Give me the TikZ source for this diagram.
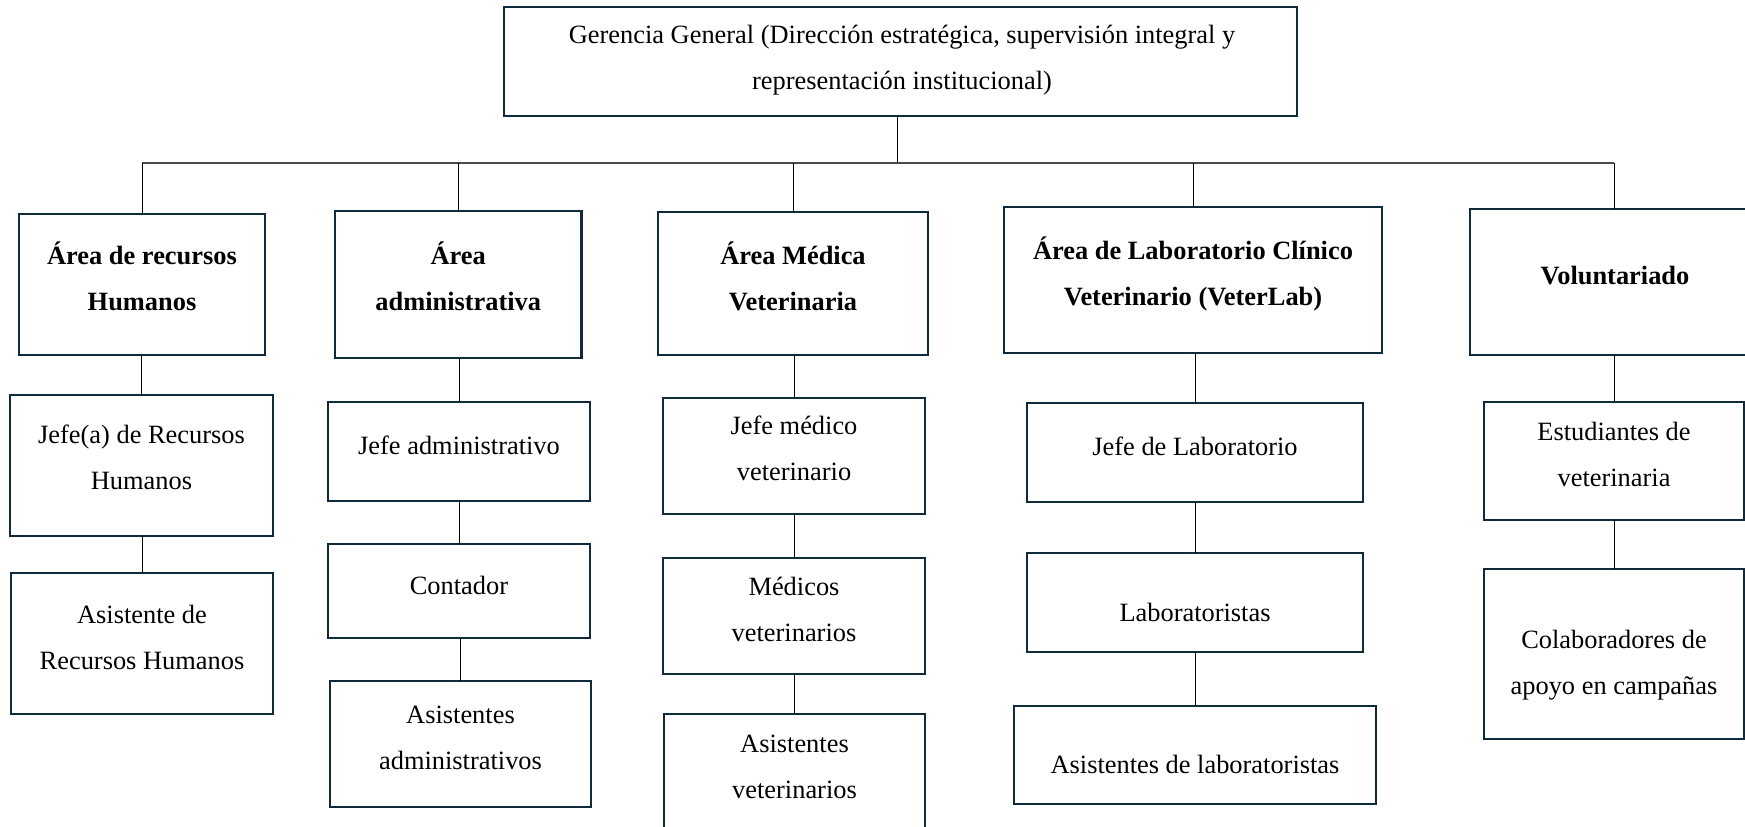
\documentclass[tikz,border=0pt]{standalone}
\usepackage{fontspec}
\setmainfont{Liberation Serif}
\definecolor{boxline}{HTML}{0F2B3B}
\definecolor{busline}{HTML}{4A4A4A}
\begin{document}
\begin{tikzpicture}[x=1pt,y=-1pt,
  box/.style={draw=boxline, line width=2.5pt, fill=white, inner sep=0pt, outer sep=0pt, rectangle},
  lbl/.style={anchor=base, inner sep=0pt, font=\fontsize{26.4}{46}\selectfont},
  conn/.style={draw=black, line width=1pt},
  busst/.style={draw=busline, line width=1.6pt}]
\useasboundingbox (0,0) rectangle (1745,827);
\clip (0,0) rectangle (1745,827);
\fill[white] (0,0) rectangle (1745,827);

% connectors first (under boxes)
\coordinate (bus) at (897,163);

% boxes
\node[box, minimum width=793pt, minimum height=109pt] (top) at (900.5,61.5) {};
\node[box, minimum width=246pt, minimum height=141pt] (h1) at (142,284.5) {};
\node[box, minimum width=246.5pt, minimum height=147pt] (h2) at (458.25,284.5) {};
\node[box, minimum width=270pt, minimum height=143pt] (h3) at (793,283.5) {};
\node[box, minimum width=378pt, minimum height=146pt] (h4) at (1193,280) {};
\node[box, minimum width=290pt, minimum height=146pt] (h5) at (1615,282) {};

\node[box, minimum width=263pt, minimum height=141pt] (a1) at (141.5,465.5) {};
\node[box, minimum width=262pt, minimum height=141pt] (a2) at (142,643.5) {};

\node[box, minimum width=262pt, minimum height=99pt] (b1) at (459,451.5) {};
\node[box, minimum width=262pt, minimum height=94pt] (b2) at (459,591) {};
\node[box, minimum width=261pt, minimum height=126pt] (b3) at (460.5,744) {};

\node[box, minimum width=262pt, minimum height=116pt] (c1) at (794,456) {};
\node[box, minimum width=262pt, minimum height=116pt] (c2) at (794,616) {};
\node[box, minimum width=261pt, minimum height=136pt] (c3) at (794.5,782) {};

\node[box, minimum width=336pt, minimum height=99pt] (d1) at (1195,452.5) {};
\node[box, minimum width=336pt, minimum height=99pt] (d2) at (1195,602.5) {};
\node[box, minimum width=362pt, minimum height=98pt] (d3) at (1195,755) {};

\node[box, minimum width=260pt, minimum height=118pt] (e1) at (1614,461) {};
\node[box, minimum width=260pt, minimum height=170pt] (e2) at (1614,654) {};

% tree connectors
\draw[conn] (top.south -| bus) -- (bus);
\draw[busst] (h1.north |- bus) -- (e1.north |- bus);
\draw[conn] (h1.north) -- (h1.north |- bus);
\draw[conn] (h2.north) -- (h2.north |- bus);
\draw[conn] (h3.north) -- (h3.north |- bus);
\draw[conn] (h4.north) -- (h4.north |- bus);
\draw[conn] (e1.north |- h5.north) -- (e1.north |- bus);

\draw[conn] (a1.north) -- (a1.north |- h1.south);
\draw[conn] (a2.north) -- (a2.north |- a1.south);
\draw[conn] (b1.north) -- (b1.north |- h2.south);
\draw[conn] (b2.north) -- (b2.north |- b1.south);
\draw[conn] (b3.north) -- (b3.north |- b2.south);
\draw[conn] (c1.north) -- (c1.north |- h3.south);
\draw[conn] (c2.north) -- (c2.north |- c1.south);
\draw[conn] (c3.north) -- (c3.north |- c2.south);
\draw[conn] (d1.north) -- (d1.north |- h4.south);
\draw[conn] (d2.north) -- (d2.north |- d1.south);
\draw[conn] (d3.north) -- (d3.north |- d2.south);
\draw[conn] (e1.north) -- (e1.north |- h5.south);
\draw[conn] (e2.north) -- (e2.north |- e1.south);

% texts
\node[lbl] (ttop) at (902,43) {\begin{tabular}[t]{@{}c@{}}Gerencia General (Dirección estratégica, supervisión integral y\\representación institucional)\end{tabular}};
\node[lbl] (th1) at (142,264) {\bfseries\begin{tabular}[t]{@{}c@{}}Área de recursos\\Humanos\end{tabular}};
\node[lbl] (th2) at (458.25,264) {\bfseries\begin{tabular}[t]{@{}c@{}}Área\\administrativa\end{tabular}};
\node[lbl] (th3) at (793,264) {\bfseries\begin{tabular}[t]{@{}c@{}}Área Médica\\Veterinaria\end{tabular}};
\node[lbl] (th4) at (1193,259) {\bfseries\begin{tabular}[t]{@{}c@{}}Área de Laboratorio Clínico\\Veterinario (VeterLab)\end{tabular}};
\node[lbl] (th5) at (1615,284) {\bfseries Voluntariado};

\node[lbl] (ta1) at (141.5,443) {\begin{tabular}[t]{@{}c@{}}Jefe(a) de Recursos\\Humanos\end{tabular}};
\node[lbl] (ta2) at (142,623) {\begin{tabular}[t]{@{}c@{}}Asistente de\\Recursos Humanos\end{tabular}};
\node[lbl] (tb1) at (459,454) {Jefe administrativo};
\node[lbl] (tb2) at (459,594) {Contador};
\node[lbl] (tb3) at (460.5,723) {\begin{tabular}[t]{@{}c@{}}Asistentes\\administrativos\end{tabular}};
\node[lbl] (tc1) at (794,434) {\begin{tabular}[t]{@{}c@{}}Jefe médico\\veterinario\end{tabular}};
\node[lbl] (tc2) at (794,595) {\begin{tabular}[t]{@{}c@{}}Médicos\\veterinarios\end{tabular}};
\node[lbl] (tc3) at (794.5,752) {\begin{tabular}[t]{@{}c@{}}Asistentes\\veterinarios\end{tabular}};
\node[lbl] (td1) at (1195,455) {Jefe de Laboratorio};
\node[lbl] (td2) at (1195,621) {Laboratoristas};
\node[lbl] (td3) at (1195,773) {Asistentes de laboratoristas};
\node[lbl] (te1) at (1614,440) {\begin{tabular}[t]{@{}c@{}}Estudiantes de\\veterinaria\end{tabular}};
\node[lbl] (te2) at (1614,648) {\begin{tabular}[t]{@{}c@{}}Colaboradores de\\apoyo en campañas\end{tabular}};
\end{tikzpicture}
\end{document}
